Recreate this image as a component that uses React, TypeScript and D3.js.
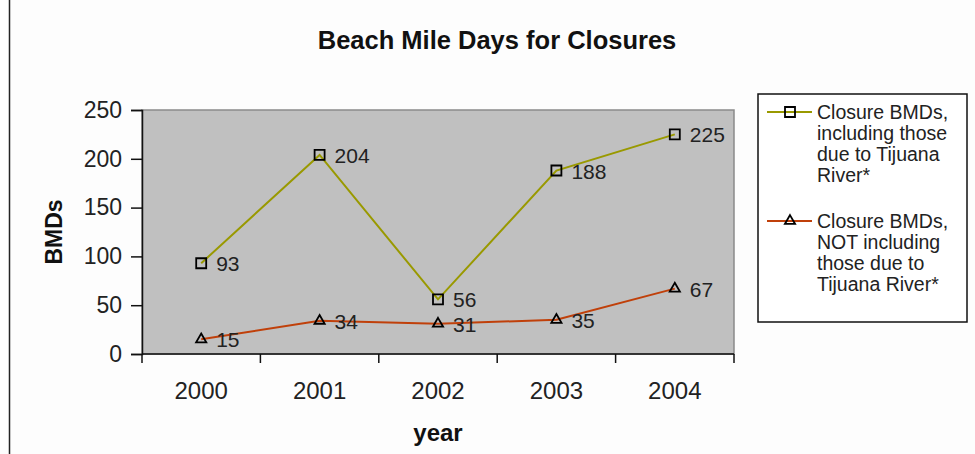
import React, { useRef, useEffect } from 'react';
import * as d3 from 'd3';

const years = ['2000', '2001', '2002', '2003', '2004'];
const includingTijuana = [93, 204, 56, 188, 225];
const excludingTijuana = [15, 34, 31, 35, 67];
const yTicks = [0, 50, 100, 150, 200, 250];
const legendIncluding = ['Closure BMDs,', 'including those', 'due to Tijuana', 'River*'];
const legendExcluding = ['Closure BMDs,', 'NOT including', 'those due to', 'Tijuana River*'];

const App = () => {
  const svgRef = useRef<SVGSVGElement>(null);

  useEffect(() => {
    const svg = d3.select(svgRef.current);
    svg.selectAll('*').remove();

    const width = 975;
    const height = 454;
    const marginLeft = 142;
    const marginRight = 241;
    const marginTop = 110;
    const marginBottom = 100;
    const font = 'Liberation Sans, Arial, sans-serif';

    svg.append('rect').attr('width', width).attr('height', height).attr('fill', '#fdfdfd');

    // left page rule
    svg.append('line')
      .attr('x1', 9.5).attr('x2', 9.5).attr('y1', 0).attr('y2', height)
      .attr('stroke', '#222').attr('stroke-width', 1.5);

    const x = d3.scaleBand()
      .domain(years)
      .range([marginLeft, width - marginRight]);

    const y = d3.scaleLinear()
      .domain([0, 250])
      .range([height - marginBottom, marginTop]);

    // plot area
    svg.append('rect')
      .attr('x', marginLeft).attr('y', marginTop)
      .attr('width', width - marginRight - marginLeft)
      .attr('height', height - marginBottom - marginTop)
      .attr('fill', '#c0c0c0')
      .attr('stroke', '#8a8a8a')
      .attr('stroke-width', 1.5);

    // title
    svg.append('text')
      .attr('x', 497).attr('y', 49)
      .attr('text-anchor', 'middle')
      .attr('font-family', font).attr('font-weight', 'bold').attr('font-size', 25.5)
      .attr('fill', '#111')
      .text('Beach Mile Days for Closures');

    // y axis
    const yAxis = svg.append('g')
      .attr('transform', `translate(${marginLeft},0)`)
      .call(d3.axisLeft(y).tickValues(yTicks).tickSize(11).tickPadding(9));
    yAxis.select('.domain').attr('stroke', '#111').attr('stroke-width', 1.5);
    yAxis.selectAll('line').attr('stroke', '#111').attr('stroke-width', 1.5);
    yAxis.selectAll('text')
      .attr('font-family', font).attr('font-size', 23).attr('fill', '#222');

    // x axis, ticks between categories
    const xAxisG = svg.append('g')
      .attr('transform', `translate(0,${height - marginBottom})`);
    xAxisG.append('line')
      .attr('x1', marginLeft).attr('x2', width - marginRight)
      .attr('stroke', '#111').attr('stroke-width', 1.5);
    const edges = [...years.map(d => x(d)!), x(years[years.length - 1])! + x.bandwidth()];
    xAxisG.selectAll('line.tick')
      .data(edges)
      .join('line')
      .attr('class', 'tick')
      .attr('x1', d => d).attr('x2', d => d)
      .attr('y1', 0).attr('y2', 9)
      .attr('stroke', '#111').attr('stroke-width', 1.5);
    xAxisG.selectAll('text')
      .data(years)
      .join('text')
      .attr('x', d => x(d)! + x.bandwidth() / 2)
      .attr('y', 45)
      .attr('text-anchor', 'middle')
      .attr('font-family', font).attr('font-size', 24).attr('fill', '#222')
      .text(d => d);

    // axis titles
    svg.append('text')
      .attr('transform', `translate(62,${y(125)}) rotate(-90)`)
      .attr('text-anchor', 'middle')
      .attr('font-family', font).attr('font-weight', 'bold').attr('font-size', 23)
      .attr('fill', '#111')
      .text('BMDs');
    svg.append('text')
      .attr('x', x('2002')! + x.bandwidth() / 2).attr('y', 441)
      .attr('text-anchor', 'middle')
      .attr('font-family', font).attr('font-weight', 'bold').attr('font-size', 24)
      .attr('fill', '#111')
      .text('year');

    const cx = (i: number) => x(years[i])! + x.bandwidth() / 2;
    const line = d3.line<number>()
      .x((_, i) => cx(i))
      .y(d => y(d));

    const square = d3.symbol().type(d3.symbolSquare).size(100);
    const triangle = d3.symbol().type(d3.symbolTriangle).size(45);

    const series = [
      { values: includingTijuana, color: '#999900', symbol: square },
      { values: excludingTijuana, color: '#c0400a', symbol: triangle },
    ];

    series.forEach(s => {
      svg.append('path')
        .datum(s.values)
        .attr('fill', 'none')
        .attr('stroke', s.color)
        .attr('stroke-width', 2)
        .attr('d', line);

      svg.append('g')
        .selectAll('path')
        .data(s.values)
        .join('path')
        .attr('transform', (d, i) => `translate(${cx(i)},${y(d)})`)
        .attr('d', s.symbol() as string)
        .attr('fill', 'none')
        .attr('stroke', '#000')
        .attr('stroke-width', 1.8);

      svg.append('g')
        .selectAll('text')
        .data(s.values)
        .join('text')
        .attr('x', (_, i) => cx(i) + 15)
        .attr('y', d => y(d) + 8)
        .attr('font-family', font).attr('font-size', 21).attr('fill', '#222')
        .text(d => d);
    });

    // legend
    const legend = svg.append('g');
    legend.append('rect')
      .attr('x', 758).attr('y', 94)
      .attr('width', 209).attr('height', 228)
      .attr('fill', '#fff')
      .attr('stroke', '#111').attr('stroke-width', 1.5);

    const entries = [
      { lines: legendIncluding, top: 112, ...series[0] },
      { lines: legendExcluding, top: 221, ...series[1] },
    ];
    entries.forEach(e => {
      legend.append('line')
        .attr('x1', 767).attr('x2', 812)
        .attr('y1', e.top).attr('y2', e.top)
        .attr('stroke', e.color).attr('stroke-width', 2);
      legend.append('path')
        .attr('transform', `translate(790,${e.top})`)
        .attr('d', e.symbol() as string)
        .attr('fill', 'none')
        .attr('stroke', '#000')
        .attr('stroke-width', 1.8);
      e.lines.forEach((t, i) => {
        legend.append('text')
          .attr('x', 817).attr('y', e.top + 7 + i * 21)
          .attr('font-family', font).attr('font-size', 19.5).attr('fill', '#222')
          .text(t);
      });
    });
  }, []);

  return <svg ref={svgRef} width={975} height={454} style={{ display: 'block', position: 'absolute', left: 0, top: 0 }} />;
};

export default App;
